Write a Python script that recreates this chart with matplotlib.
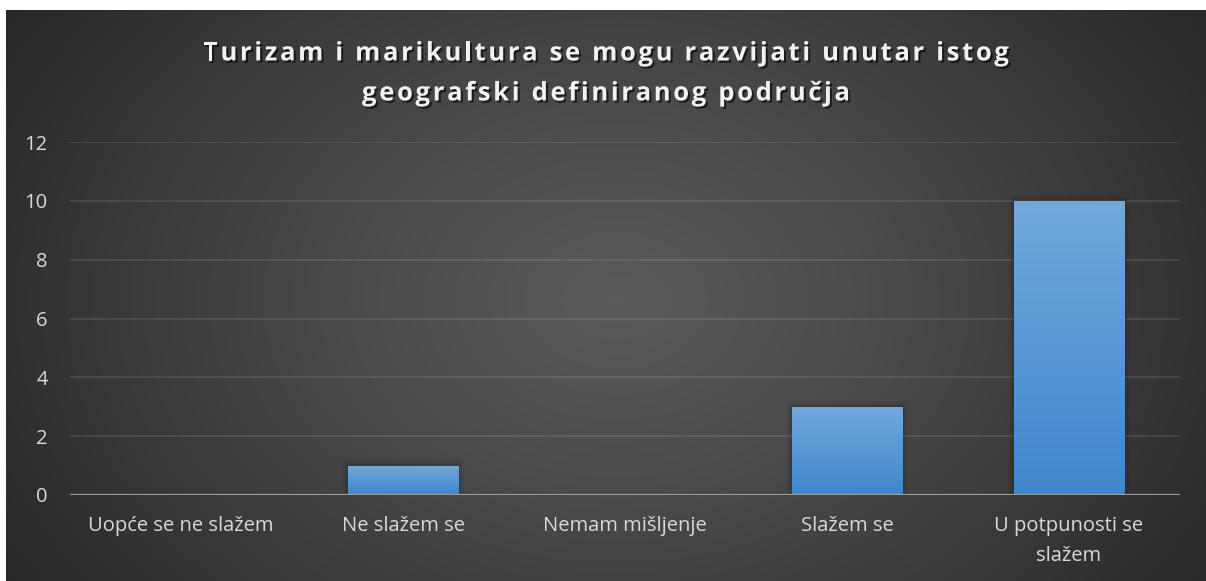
import numpy as np
import matplotlib.pyplot as plt
import matplotlib.patheffects as pe
from matplotlib.patches import Rectangle
from matplotlib.colors import LinearSegmentedColormap

plt.rcParams['font.family'] = ['Open Sans', 'DejaVu Sans']

title_lines = ['Turizam i marikultura se mogu razvijati unutar istog',
               'geografski definiranog područja']
categories = ['Uopće se ne slažem', 'Ne slažem se', 'Nemam mišljenje',
              'Slažem se', 'U potpunosti se\nslažem']
values = [0, 1, 0, 3, 10]
yticks = [0, 2, 4, 6, 8, 10, 12]

W, H = 1206, 581
fig = plt.figure(figsize=(W / 100, H / 100), dpi=100, facecolor='white')

# dark radial background, with a thin white strip on top and left
bg = fig.add_axes([6 / W, 0, 1 - 6 / W, 1 - 10 / H], zorder=0)
bg.set_axis_off()
yy, xx = np.mgrid[0:571, 0:1200]
r = np.sqrt(((xx - 610) / 700.0) ** 2 + ((yy - 290) / 520.0) ** 2)
shade = np.clip(0.35 - 0.19 * r ** 1.2, 0.145, 0.35)
bg.imshow(np.dstack([shade] * 3), aspect='auto', extent=[0, 1, 0, 1])
bg.set_xlim(0, 1)
bg.set_ylim(0, 1)

ax = fig.add_axes([70 / W, 86 / H, 1110 / W, 353 / H], zorder=1)
ax.patch.set_alpha(0)
x = np.arange(len(categories))
ax.set_yticks(yticks)
ax.set_xticks(x)
ax.set_xticklabels(categories, color='#d9d9d9', fontsize=14.5, linespacing=1.65)
ax.tick_params(axis='y', colors='#d9d9d9', labelsize=14.5, length=0, pad=16)
ax.tick_params(axis='x', length=0, pad=15)
for s in ax.spines.values():
    s.set_visible(False)
ax.grid(axis='y', color='white', alpha=0.09, linewidth=1.5)
ax.set_axisbelow(True)
ax.axhline(0, color='#9a9a9a', linewidth=1.6, zorder=4)

cmap = LinearSegmentedColormap.from_list('bar', ['#3f86cb', '#72a9dd'])
grad = np.linspace(0, 1, 256).reshape(-1, 1)
width = 0.5
for xi, v in zip(x, values):
    if v <= 0:
        continue
    # soft shadow round the bar
    for k in range(5):
        d = 0.003 + k * 0.005
        ax.add_patch(Rectangle((xi - width / 2 - d, 0), width + 2 * d, v + d * 8,
                               facecolor='black', alpha=0.035, linewidth=0, zorder=2))
    rect = Rectangle((xi - width / 2, 0), width, v, facecolor='none',
                     linewidth=0, zorder=3)
    ax.add_patch(rect)
    im = ax.imshow(grad, cmap=cmap, origin='lower', aspect='auto',
                   extent=[xi - width / 2, xi + width / 2, 0, v], zorder=3)
    im.set_clip_path(rect)
ax.set_xlim(-0.5, len(categories) - 0.5)
ax.set_ylim(0, 12)


def spaced_text(y, s, tracking=2.6, size=18.5):
    # draw a line char by char so the letters get extra spacing
    renderer = fig.canvas.get_renderer()
    widths = []
    for ch in s:
        t = fig.text(0, 0, ch if ch != ' ' else 'a a', fontsize=size, fontweight='bold')
        w = t.get_window_extent(renderer).width
        if ch == ' ':
            t2 = fig.text(0, 0, 'aa', fontsize=size, fontweight='bold')
            w = w - t2.get_window_extent(renderer).width
            t2.remove()
        widths.append(w)
        t.remove()
    total = sum(widths) + tracking * (len(s) - 1)
    xpos = (W + 6) / 2 - total / 2
    shadow = [pe.SimplePatchShadow(offset=(1.5, -1.5), shadow_rgbFace='black', alpha=0.6),
              pe.Normal()]
    for ch, w in zip(s, widths):
        if ch != ' ':
            fig.text(xpos / W, 1 - y / H, ch, fontsize=size, fontweight='bold',
                     color='#f2f2f2', ha='left', va='center', path_effects=shadow)
        xpos += w + tracking


spaced_text(53, title_lines[0])
spaced_text(93, title_lines[1])

fig.savefig('out.png', dpi=100, facecolor='white')
